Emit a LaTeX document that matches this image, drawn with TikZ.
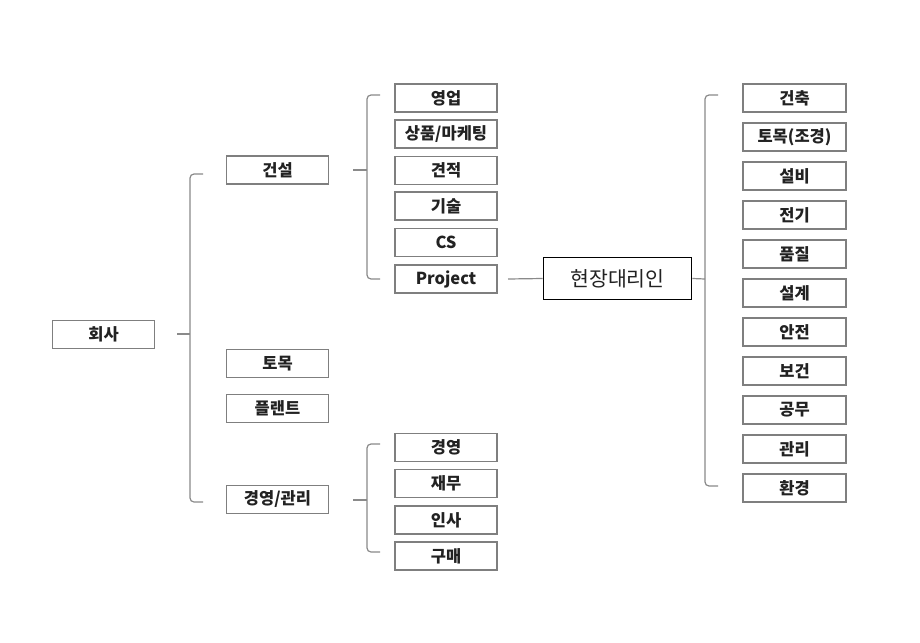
\documentclass[tikz,border=0pt]{standalone}
\usepackage{fontspec}
\setmainfont{Noto Sans CJK KR}
\definecolor{boxgray}{HTML}{7F7F7F}
\definecolor{linegray}{HTML}{8A8A8A}
\definecolor{txt}{HTML}{222222}
\begin{document}
\begin{tikzpicture}[x=1pt,y=-1pt,
  box/.style={draw=boxgray, line width=1.2pt, minimum width=102pt, minimum height=28pt, inner sep=0pt, text=txt, font=\bfseries\fontsize{16.5}{17}\selectfont},
  bigbox/.style={draw=black, line width=1.6pt, minimum width=148pt, minimum height=42pt, inner sep=0pt, text=txt, font=\fontsize{20.5}{21}\selectfont},
  br/.style={draw=linegray, line width=1.2pt, rounded corners=4pt},
  tick/.style={draw=linegray, line width=1.2pt}]
\useasboundingbox (0,0) rectangle (920,642);
\fill[white] (0,0) rectangle (920,642);
% level 0
\node[box] (hoesa) at (103.5,334.5) {회사};
% level 1
\node[box] (geonseol) at (277.5,170) {건설};
\node[box] (tomok) at (277.5,363.5) {토목};
\node[box] (plant) at (277.5,408.5) {플랜트};
\node[box] (gyeonggwan) at (277.5,499.5) {경영/관리};
% level 2 (건설)
\node[box] (yeongeop) at (446,98) {영업};
\node[box] (sangpum) at (446,134) {상품/마케팅};
\node[box] (gyeonjeok) at (446,170.5) {견적};
\node[box] (gisul) at (446,206) {기술};
\node[box] (cs) at (446,242.5) {CS};
\node[box] (project) at (446,279) {Project};
% level 2 (경영/관리)
\node[box] (gyeongyeong) at (446,447.5) {경영};
\node[box] (jaemu) at (446,483.5) {재무};
\node[box] (insa) at (446,520) {인사};
\node[box] (gumae) at (446,556) {구매};
% site agent
\node[bigbox] (hyeonjang) at (617.5,278.5) {현장대리인};
% right column
\foreach \t [count=\i from 0] in {건축,토목(조경),설비,전기,품질,설계,안전,보건,공무,관리,환경}{
  \node[box, minimum width=103pt] (r\i) at (794.5,98+39*\i) {\t};
}
% bracket coordinates
\coordinate (la) at (203,174); \coordinate (lb) at (190,174);
\coordinate (lc) at (190,502); \coordinate (ld) at (203,502);
\coordinate (lt) at (177,334); \coordinate (lm) at (190,334);
\coordinate (ma) at (380,95); \coordinate (mb) at (367,95);
\coordinate (mc) at (367,279); \coordinate (md) at (380,279);
\coordinate (mt) at (353,170); \coordinate (mm) at (367,170);
\coordinate (ba) at (380,444); \coordinate (bb) at (367,444);
\coordinate (bc) at (367,552); \coordinate (bd) at (380,552);
\coordinate (bt) at (353,500); \coordinate (bm) at (367,500);
\coordinate (pj) at (508,279);
\coordinate (ra) at (718,95); \coordinate (rb) at (705,95);
\coordinate (rc) at (705,486); \coordinate (rd) at (718,486);
\coordinate (rm) at (705,279);
% brackets
\draw[br] (la) -- (lb) -- (lc) -- (ld);
\draw[tick] (lt) -- (lm);
\draw[br] (ma) -- (mb) -- (mc) -- (md);
\draw[tick] (mt) -- (mm);
\draw[br] (ba) -- (bb) -- (bc) -- (bd);
\draw[tick] (bt) -- (bm);
\draw[tick] (pj) -- (hyeonjang.west);
\draw[tick] (hyeonjang.east) -- (rm);
\draw[br] (ra) -- (rb) -- (rc) -- (rd);
\end{tikzpicture}
\end{document}
